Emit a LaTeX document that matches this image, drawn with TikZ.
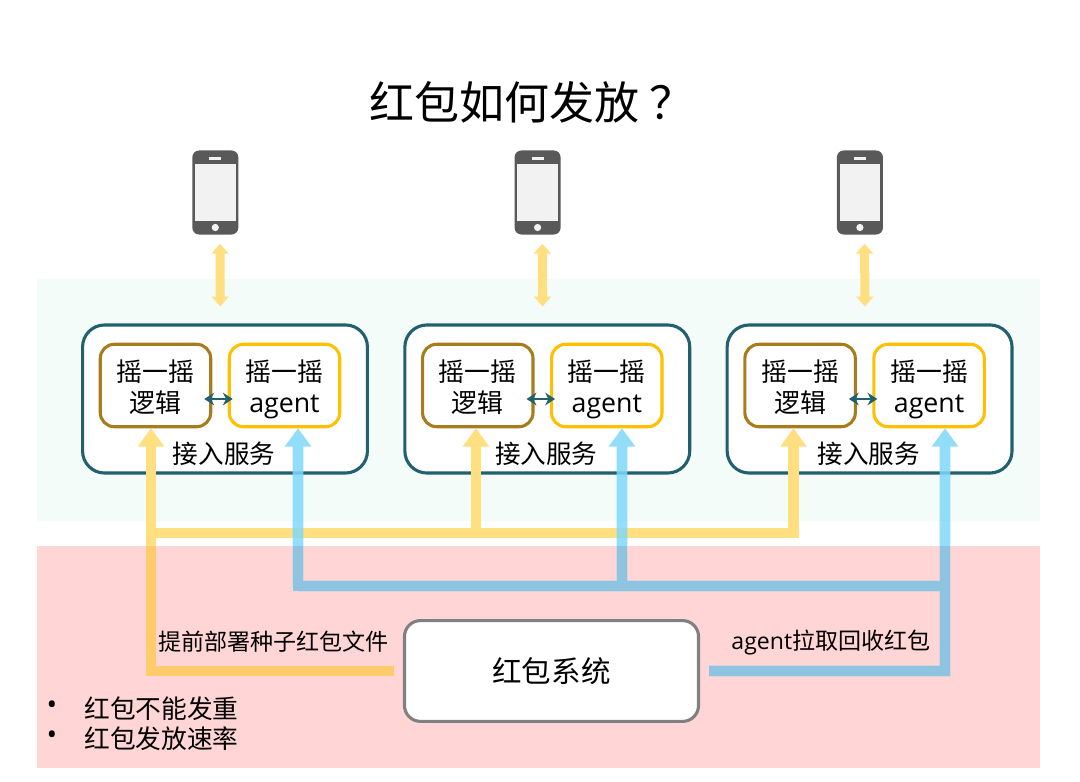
\documentclass[tikz,border=0pt]{standalone}
\usepackage{fontspec}
\setmainfont{Noto Sans CJK SC}
\newfontfamily\agentfont{Open Sans}
\usepackage{xcolor}
\usetikzlibrary{positioning,calc,arrows.meta}
\definecolor{panelgreen}{HTML}{F3FCF8}
\definecolor{panelpink}{HTML}{FFD5D5}
\definecolor{svcteal}{HTML}{22606F}
\definecolor{logicbrown}{HTML}{A87C1C}
\definecolor{agentgold}{HTML}{FFC000}
\definecolor{feedyellow}{HTML}{FFDF80}
\definecolor{feedyellowdark}{HTML}{FFCB6B}
\definecolor{pullblue}{HTML}{7FD8FA}
\definecolor{pullbluedark}{HTML}{8EC4E0}
\definecolor{phonegray}{HTML}{595959}
\definecolor{sysgray}{HTML}{808080}
\newcommand{\agenttxt}{{\agentfont agent}}
\newcommand{\boxtxt}[2]{\smash{\raisebox{-8.4pt}{\begin{tabular}{@{}c@{}}#1\\#2\end{tabular}}}}
\begin{document}
\begin{tikzpicture}[x=0.025cm, y=-0.025cm,
    panel/.style={draw=none, fill=#1, inner sep=0pt, anchor=north west},
    svcbox/.style={draw=svcteal, fill=white, line width=2.2pt, rounded corners=0.55cm,
      minimum width=7.12cm, minimum height=3.7cm, inner sep=0pt},
    innerbox/.style={draw=#1, fill=white, line width=2.2pt, rounded corners=0.35cm,
      minimum width=2.76cm, minimum height=2.06cm, inner sep=0pt,
      font=\fontsize{18.4}{22}\selectfont},
    phonebody/.style={fill=phonegray, rounded corners=0.17cm, minimum width=1.15cm,
      minimum height=2.1cm, inner sep=0pt},
    linktip/.style={line width=6.4pt, feedyellow, {Triangle[width=12pt,length=7pt]}-{Triangle[width=12pt,length=7pt]}},
    wire/.style={line width=7.6pt, #1, -{Triangle[width=18pt,length=13pt]}},
    wireplain/.style={line width=7.6pt, #1},
    lbl/.style={font=\fontsize{16.4}{20}\selectfont, inner sep=0pt},
    notelbl/.style={font=\fontsize{18.3}{21}\selectfont, inner sep=0pt, anchor=west},
    dotlbl/.style={font=\agentfont\fontsize{20}{22}\selectfont, inner sep=0pt}]
  \useasboundingbox (0,0) rectangle (1080,782);

  \node[panel=panelgreen, minimum width=25.05cm, minimum height=6.05cm] (edge) at (37,279) {};
  \node[panel=panelpink, minimum width=25.05cm, minimum height=5.55cm] (zone) at (37,546) {};

  \node[font=\fontsize{32}{38}\selectfont, inner sep=0pt, anchor=west] (title) at (369,102) {红包如何发放\hspace{7pt}？};

  % three phones, each with its access box below
  \foreach \i/\dx in {1/0, 2/322.3, 3/644.6} {
    \node[phonebody] (phone\i) at (215.3+\dx,192.5) {};
    \node[fill=black!5, minimum width=1.02cm, minimum height=1.42cm, inner sep=0pt] (screen\i) at (215.3+\dx,192.5) {};
    \node[fill=black!5, minimum width=0.3cm, minimum height=0.05cm, inner sep=0pt] (speaker\i) at (215.3+\dx,158.5) {};
    \node[fill=black!5, circle, minimum size=0.18cm, inner sep=0pt] (button\i) at (215.3+\dx,227.5) {};

    \node[svcbox] (svc\i) at (225+\dx,399) {};
    \node[innerbox=logicbrown] (logic\i) at (155.5+\dx,385.5) {\boxtxt{摇一摇}{逻辑}};
    \node[innerbox=agentgold] (agent\i) at (284.5+\dx,385.5) {\boxtxt{摇一摇}{\fontsize{19}{22}\selectfont\agenttxt}};
    \node[font=\fontsize{18.2}{21}\selectfont, inner sep=0pt] (svclabel\i) at ($(svc\i.south)+(-1,-21)$) {接入服务};

    \draw[linktip] ($(phone\i.south)+(4.7,9)$) -- ($(svc\i.north)+(-4.7,-17)$);
    \draw[{Stealth[length=7pt,width=9pt]}-{Stealth[length=7pt,width=9pt]}, svcteal, line width=2pt]
      ($(logic\i.east)+(-8,13.5)$) -- ($(agent\i.west)+(5,13.5)$);
  }

  \node[draw=sysgray, fill=white, line width=2.2pt, rounded corners=0.4cm, minimum width=7.35cm,
    minimum height=2.52cm, inner sep=0pt, font=\fontsize{21}{25}\selectfont] (sys) at (551.5,671) {红包系统};

  \coordinate (feedstart) at ($(sys.west)+(-9,0)$);
  \coordinate (feedbus) at (151,533);
  \coordinate (pullstart) at ($(sys.east)+(9,0)$);
  \coordinate (pullbus) at (298,586);

  % yellow wires: seed files
  \draw[wire=feedyellow] (feedstart) -| (logic1.south -| feedbus);
  \draw[wire=feedyellow] (feedbus) -| (logic3.south -| 793.5,0);
  \draw[wire=feedyellow] (476,533) -- (logic2.south -| 476,0);

  % blue wires: agent pull
  \begin{scope}[transparency group, opacity=0.85]
    \draw[wire=pullblue] (pullstart) -| (agent3.south -| 945,0);
    \draw[wire=pullblue] (pullbus) -- (agent1.south -| pullbus);
    \draw[wireplain=pullblue] (pullbus) -- (945,586);
    \draw[wire=pullblue] (622,586) -- (agent2.south -| 622,0);
  \end{scope}

  % inside the red zone the wires are darker
  \begin{scope}
    \clip (zone.north west) rectangle (zone.south east);
    \draw[wireplain=feedyellowdark] (feedstart) -| (feedbus);
    \draw[wireplain=pullbluedark] (pullstart) -| (945,500);
    \draw[wireplain=pullbluedark] (298,500) |- (945,586);
    \draw[wireplain=pullbluedark] (622,500) -- (622,586);
  \end{scope}

  \node[lbl] (feedlabel) at (273.5,642) {提前部署种子红包文件};
  \node[lbl] (pulllabel) at (831,642) {\agenttxt 拉取回收红包};

  \node[notelbl] (note1) at (84,709) {红包不能发重};
  \node[notelbl] (note2) at (84,739) {红包发放速率};
  \node[dotlbl] (dot1) at (52,708) {•};
  \node[dotlbl] (dot2) at (52,738) {•};
\end{tikzpicture}
\end{document}
